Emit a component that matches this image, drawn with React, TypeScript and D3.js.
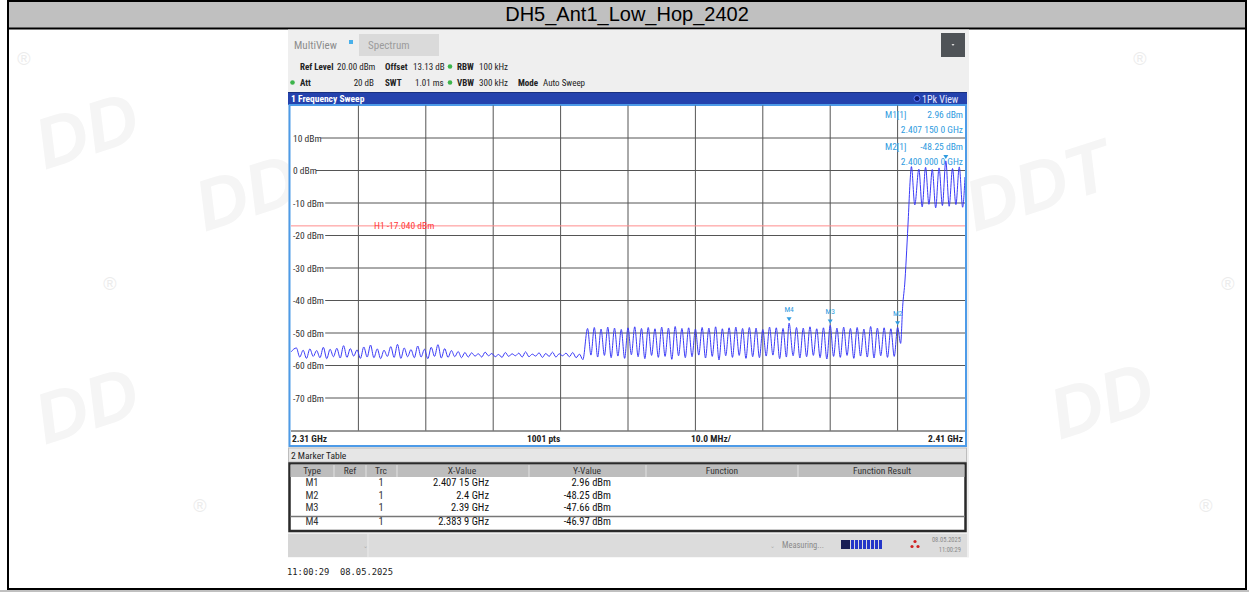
import React from 'react';
import * as d3 from 'd3';

// ---- chart data ----
const TITLE = 'DH5_Ant1_Low_Hop_2402';

const startMHz = 2310;
const stopMHz = 2410;
const refLevel = 20;
const bottomLevel = -80;
const yTickDbm = [10, 0, -10, -20, -30, -40, -50, -60, -70];

// noise floor with small spurs, one spur per MHz starting at 2310.8
const noiseStart = 2310.8;
const noisePeakDbm = [-54.6, -55.3, -54.9, -55.4, -54.4, -55.0, -54.7, -53.9, -54.8, -55.2, -54.3, -53.7, -54.9, -55.3, -54.2, -53.5, -54.6, -55.1, -54.0, -55.0, -54.4, -53.6, -54.8, -55.4, -55.7, -56.0];
const noiseTroughDbm = [-57.4, -57.8, -57.2, -57.6, -57.9, -57.3, -57.7, -57.5, -57.1, -57.8, -57.4, -57.6, -57.9, -57.2, -57.5, -57.8, -57.3, -57.6, -57.4, -57.9, -57.2, -57.7, -57.5, -57.3, -57.6, -57.4];

// quieter floor 2336.8 .. 2352.8
const floorStart = 2336.8;
const floorPeakDbm = [-56.1, -56.4, -55.9, -56.3, -56.6, -56.0, -56.4, -56.2, -55.8, -56.5, -56.1, -56.3, -55.9, -56.4, -56.2, -56.0, -56.5];
const floorTroughDbm = [-57.1, -57.4, -57.0, -57.3, -57.5, -57.2, -57.0, -57.4, -57.3, -57.1, -57.5, -57.2, -57.4, -57.0, -57.3, -57.6, -58.2];

// hopping comb 2354 .. 2400 MHz
const hopStart = 2354;
const hopPeakDbm = [-48.6, -48.3, -48.8, -48.2, -48.5, -48.9, -48.4, -48.1, -48.6, -48.3, -48.7, -48.2, -48.5, -48.0, -48.6, -48.4, -48.8, -48.3, -48.5, -48.1, -48.7, -48.4, -48.2, -48.6, -48.3, -48.5, -48.9, -48.2, -48.4, -48.6, -46.97, -48.3, -48.5, -48.1, -48.7, -48.4, -47.66, -48.5, -48.2, -48.6, -48.3, -48.8, -48.0, -48.5, -48.4, -48.7, -48.25];
const hopTroughDbm = [-56.8, -57.4, -56.9, -57.6, -57.1, -57.8, -56.7, -57.3, -57.9, -56.9, -57.5, -57.2, -58.1, -57.0, -57.6, -57.3, -56.8, -57.7, -57.2, -58.3, -57.0, -57.5, -56.9, -57.8, -57.3, -57.6, -57.1, -56.8, -57.9, -57.4, -57.0, -57.7, -57.3, -56.9, -57.6, -58.0, -57.2, -57.5, -56.9, -57.8, -57.1, -57.4, -57.7, -57.0, -57.5, -57.2];

// band edge rise
const edgeMHz = [2400.45, 2400.75, 2401.1, 2401.35, 2401.6, 2401.84];
const edgeDbm = [-53.2, -41.9, -33.7, -24.5, -14.2, -3.8];

// in band
const inBandPeakMHz = [2402.05, 2403.15, 2404.15, 2405.15, 2406.15, 2407.15, 2408.15, 2409.15];
const inBandPeakDbm = [1.2, 0.4, 1.0, 0.3, 0.8, 2.96, 0.6, 1.1];
const inBandTroughDbm = [-10.6, -11.2, -10.4, -11.5, -10.8, -11.0, -10.5, -11.3];
const endDbm = -2.0;

const displayLine = -17.04;

const markerNames = ['M1', 'M2', 'M3', 'M4'];
const markerMHz = [2407.15, 2400, 2390, 2383.9];
const markerDbm = [2.96, -48.25, -47.66, -46.97];
const markerXText = ['2.407 15 GHz', '2.4 GHz', '2.39 GHz', '2.383 9 GHz'];
const markerYText = ['2.96 dBm', '-48.25 dBm', '-47.66 dBm', '-46.97 dBm'];

const tableHeads = ['Type', 'Ref', 'Trc', 'X-Value', 'Y-Value', 'Function', 'Function Result'];

const NARROW = "'Liberation Sans Narrow', 'Arial Narrow', 'Roboto Condensed', sans-serif";
const MARK = '#2f9be0';

function buildTrace() {
  const pts: { f: number; v: number }[] = [{ f: startMHz, v: -55.8 }];
  noisePeakDbm.forEach((v, i) => {
    pts.push({ f: noiseStart + i, v });
    pts.push({ f: noiseStart + i + 0.5, v: noiseTroughDbm[i] });
  });
  floorPeakDbm.forEach((v, i) => {
    pts.push({ f: floorStart + i, v });
    pts.push({ f: floorStart + i + 0.5, v: floorTroughDbm[i] });
  });
  hopPeakDbm.forEach((v, i) => {
    const f = i === 30 ? 2383.9 : hopStart + i;
    pts.push({ f, v });
    if (i < hopTroughDbm.length) pts.push({ f: hopStart + i + 0.5, v: hopTroughDbm[i] });
  });
  edgeMHz.forEach((f, i) => pts.push({ f, v: edgeDbm[i] }));
  inBandPeakMHz.forEach((f, i) => {
    pts.push({ f, v: inBandPeakDbm[i] });
    pts.push({ f: f + 0.5, v: inBandTroughDbm[i] });
  });
  pts.push({ f: stopMHz, v: endDbm });
  return pts;
}

const App = () => {
  const W = 1249;
  const H = 592;
  const pl = 291, pr = 965, pt = 105.5, pb = 430.5;

  const x = d3.scaleLinear().domain([startMHz, stopMHz]).range([pl, pr]);
  const y = d3.scaleLinear().domain([refLevel, bottomLevel]).range([pt, pb]);

  const line = d3.line<{ f: number; v: number }>()
    .x(d => x(d.f))
    .y(d => y(d.v))
    .curve(d3.curveMonotoneX);
  const tracePath = line(buildTrace()) || '';

  const xGrid = x.ticks(10).filter(t => t > startMHz && t < stopMHz);

  const colCenters = [312, 350, 381, 462, 587, 722, 882];
  const colSeps = [334, 366, 397, 529, 646, 798];
  const rowY = [486, 498.5, 511, 525];

  return (
    <svg width={W} height={H} style={{ position: 'absolute', left: 0, top: 0, display: 'block' }}
      fontFamily="'Liberation Sans', Arial, sans-serif">
      <rect x={0} y={0} width={W} height={H} fill="#fff" />

      {/* faint watermarks */}
      <g fill="#f5f5f5" fontWeight="bold" fontStyle="italic" fontSize={72}>
        <text x={45} y={170} transform="rotate(-18 45 170)">DD</text>
        <text x={205} y={232} transform="rotate(-18 205 232)">DDT</text>
        <text x={45} y={445} transform="rotate(-18 45 445)">DD</text>
        <text x={975} y={232} transform="rotate(-18 975 232)">DDT</text>
        <text x={1060} y={440} transform="rotate(-18 1060 440)">DD</text>
      </g>
      <g fill="#ececec" fontSize={18}>
        {[[24, 65], [110, 290], [200, 512], [1140, 65], [1228, 290], [1206, 512]].map(([a, b], i) => (
          <text key={i} x={a} y={b} textAnchor="middle">®</text>
        ))}
      </g>

      {/* outer frame + title */}
      <rect x={8} y={1} width={1238} height={27} fill="#c0c0c0" />
      <rect x={0} y={590} width={W} height={2} fill="#c0c0c0" />
      <line x1={7} y1={1} x2={1247} y2={1} stroke="#000" strokeWidth={2} />
      <line x1={7} y1={28.5} x2={1247} y2={28.5} stroke="#000" strokeWidth={2} />
      <line x1={7} y1={589} x2={1247} y2={589} stroke="#000" strokeWidth={2} />
      <line x1={8} y1={0} x2={8} y2={590} stroke="#000" strokeWidth={2} />
      <line x1={1246} y1={0} x2={1246} y2={590} stroke="#000" strokeWidth={2} />
      <text x={627} y={21} textAnchor="middle" fontSize={20} fill="#000">{TITLE}</text>

      {/* analyzer screenshot */}
      <rect x={288} y={29.5} width={681} height={528} fill="#efefef" />
      <g fontFamily={NARROW}>
        <text x={294} y={49} fontSize={11} fill="#8c8c8c">MultiView</text>
        <rect x={349} y={40} width={4} height={4} fill="#48b0ea" />
        <rect x={359} y={34} width={80} height={22} fill="#dadada" />
        <text x={368} y={49} fontSize={11} fill="#9c9c9c">Spectrum</text>
        <rect x={941} y={33} width={24} height={24} fill="#4f5357" />
        <path d="M951.5,44 L954.5,44 L953,46 Z" fill="#ddd" />

        <g fontSize={9} fill="#222">
          <text x={300} y={70} fontWeight="bold">Ref Level</text>
          <text x={337} y={70}>20.00 dBm</text>
          <text x={385} y={70} fontWeight="bold">Offset</text>
          <text x={413} y={70}>13.13 dB</text>
          <text x={457} y={70} fontWeight="bold">RBW</text>
          <text x={479} y={70}>100 kHz</text>
          <text x={300} y={86} fontWeight="bold">Att</text>
          <text x={374} y={86} textAnchor="end">20 dB</text>
          <text x={385} y={86} fontWeight="bold">SWT</text>
          <text x={415} y={86}>1.01 ms</text>
          <text x={457} y={86} fontWeight="bold">VBW</text>
          <text x={479} y={86}>300 kHz</text>
          <text x={518} y={86} fontWeight="bold">Mode</text>
          <text x={543} y={86}>Auto Sweep</text>
        </g>
        <circle cx={450} cy={66.5} r={2.3} fill="#3cb44b" />
        <circle cx={450} cy={82.5} r={2.3} fill="#3cb44b" />
        <circle cx={292.5} cy={82.5} r={2.3} fill="#3cb44b" />

        {/* window title bar */}
        <rect x={288} y={92} width={679} height={13} fill="#2442ad" />
        <line x1={288} y1={92.5} x2={967} y2={92.5} stroke="#18307f" />
        <text x={291} y={102} fontSize={9.5} fontWeight="bold" fill="#fff">1 Frequency Sweep</text>
        <circle cx={917} cy={98.5} r={3} fill="#101a70" stroke="#5a78ff" strokeWidth={1} />
        <text x={922} y={102.5} fontSize={10} fill="#e4e8ff">1Pk View</text>

        {/* plot */}
        <rect x={289.5} y={105} width={676.5} height={341} fill="#fff" stroke="#4d9be8" strokeWidth={2} />
        {yTickDbm.map(t => (
          <line key={'h' + t} x1={pl} x2={pr} y1={y(t)} y2={y(t)} stroke="#555" strokeWidth={1} />
        ))}
        {xGrid.map(t => (
          <line key={'v' + t} x1={x(t)} x2={x(t)} y1={pt} y2={pb} stroke="#555" strokeWidth={1} />
        ))}
        <line x1={pl} x2={pr} y1={pb + 0.5} y2={pb + 0.5} stroke="#333" strokeWidth={1} />

        {/* display line H1 */}
        <line x1={pl} x2={pr} y1={y(displayLine)} y2={y(displayLine)} stroke="#ff8c8c" strokeWidth={1} />
        <text x={374} y={y(displayLine) + 3.5} fontSize={9.5} fill="#ff3a3a">H1 -17.040 dBm</text>

        {/* y labels */}
        {yTickDbm.map(t => {
          const label = `${t} dBm`;
          const w = label.length * 4.6 + 2;
          return (
            <g key={'l' + t}>
              <rect x={pl} y={y(t) - 5} width={w} height={10} fill="#fff" />
              <text x={293} y={y(t) + 3.5} fontSize={9.5} fill="#333">{label}</text>
            </g>
          );
        })}

        <clipPath id="plotClip">
          <rect x={pl} y={pt} width={pr - pl} height={pb - pt} />
        </clipPath>
        <path d={tracePath} fill="none" stroke="#3a3af6" strokeWidth={1} clipPath="url(#plotClip)" />

        {/* markers on trace */}
        {markerNames.map((m, i) => {
          const mx = x(markerMHz[i]);
          const my = y(markerDbm[i]) - 4;
          return (
            <g key={m} fill={MARK}>
              <path d={`M${mx - 2.5},${my - 2} L${mx + 2.5},${my - 2} L${mx},${my + 2} Z`} />
              {i > 0 && <text x={mx} y={my - 7} fontSize={7.5} textAnchor="middle">{m}</text>}
            </g>
          );
        })}

        {/* marker info */}
        <g fontSize={9.5} fill={MARK}>
          <text x={885} y={118}>M1[1]</text>
          <text x={963} y={118} textAnchor="end">2.96 dBm</text>
          <text x={963} y={133} textAnchor="end">2.407 150 0 GHz</text>
          <text x={885} y={150}>M2[1]</text>
          <text x={963} y={150} textAnchor="end">-48.25 dBm</text>
          <text x={963} y={165} textAnchor="end">2.400 000 0 GHz</text>
        </g>

        {/* x axis info row */}
        <g fontSize={9.5} fontWeight="bold" fill="#222">
          <text x={292} y={441.5}>2.31 GHz</text>
          <text x={527} y={441.5}>1001 pts</text>
          <text x={691} y={441.5}>10.0 MHz/</text>
          <text x={963} y={441.5} textAnchor="end">2.41 GHz</text>
        </g>

        {/* marker table */}
        <rect x={288.5} y={448} width={678} height={14} fill="#e6e6e6" stroke="#bdbdbd" />
        <text x={291} y={459} fontSize={9.5} fill="#222">2 Marker Table</text>
        <rect x={289.5} y={463.5} width={676} height={67.5} fill="#fff" stroke="#2a2a2a" strokeWidth={2.5} />
        <rect x={290.5} y={464.5} width={674} height={12.5} fill="#bdbdbd" />
        {colSeps.map(s => (
          <line key={s} x1={s} x2={s} y1={465} y2={477} stroke="#e2e2e2" strokeWidth={1} />
        ))}
        {tableHeads.map((h, i) => (
          <text key={h} x={colCenters[i]} y={474} fontSize={9.5} textAnchor="middle" fill="#333">{h}</text>
        ))}
        <line x1={290.5} x2={965} y1={516.5} y2={516.5} stroke="#777" strokeWidth={1.5} />
        <g fontSize={10.5} fill="#111">
          {markerNames.map((m, i) => (
            <g key={'r' + m}>
              <text x={312} y={rowY[i]} textAnchor="middle" fill="#333">{m}</text>
              <text x={381} y={rowY[i]} textAnchor="middle" fill="#333">1</text>
              <text x={489} y={rowY[i]} textAnchor="end">{markerXText[i]}</text>
              <text x={611} y={rowY[i]} textAnchor="end">{markerYText[i]}</text>
            </g>
          ))}
        </g>

        {/* status bar */}
        <rect x={288} y={534} width={679} height={23} fill="#dcdcdc" />
        <rect x={288} y={534} width={79} height={23} fill="#d6d6d6" />
        <line x1={368} x2={368} y1={534} y2={557} stroke="#e8e8e8" />
        <text x={365} y={548} fontSize={6} fill="#aaa" textAnchor="middle">⌄</text>
        <text x={772} y={548} fontSize={6} fill="#aaa" textAnchor="middle">⌄</text>
        <text x={782} y={547.5} fontSize={8.5} fill="#8a8a8a">Measuring...</text>
        <rect x={841} y={540} width={9} height={9} fill="#1a1f55" />
        {[0, 1, 2, 3, 4, 5, 6, 7].map(k => (
          <rect key={k} x={851 + k * 4} y={540} width={3} height={9} fill="#2436c8" />
        ))}
        <g fill="#d02020">
          <circle cx={915} cy={541.5} r={1.6} />
          <circle cx={912} cy={546.5} r={1.6} />
          <circle cx={918} cy={546.5} r={1.6} />
        </g>
        <text x={961} y={542} fontSize={6.5} fill="#8a8a8a" textAnchor="end">08.05.2025</text>
        <text x={961} y={552} fontSize={6.5} fill="#8a8a8a" textAnchor="end">11:00:29</text>
      </g>

      <text x={287} y={575} fontSize={8.8} fontFamily="'DejaVu Sans Mono', monospace" fill="#222"
        style={{ whiteSpace: 'pre' }}>{'11:00:29  08.05.2025'}</text>
    </svg>
  );
};

export default App;
